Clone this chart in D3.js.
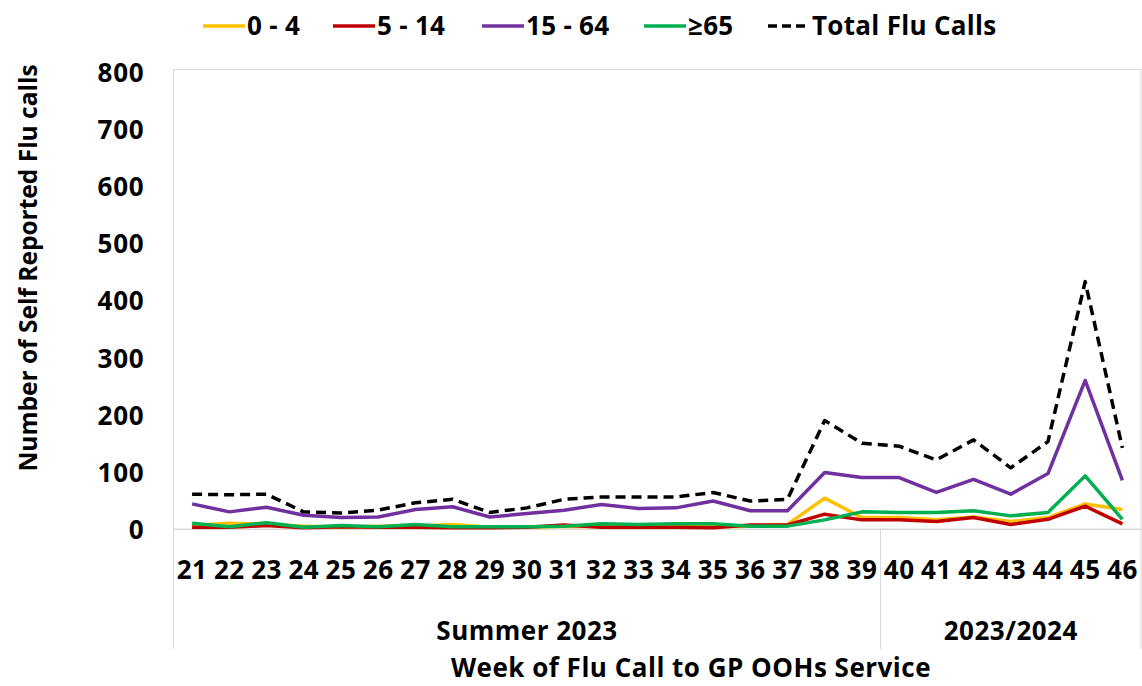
<!DOCTYPE html>
<html>
<head>
<meta charset="utf-8">
<script src="https://cdn.jsdelivr.net/npm/d3@7"></script>
<style>
  html, body { margin: 0; padding: 0; background: #fff; }
  svg text { font-family: "Open Sans", "Liberation Sans", Arial, sans-serif; font-weight: bold; fill: #000; }
</style>
</head>
<body>
<svg id="chart" width="1142" height="686"></svg>
<script>
// ---- data ----
const weeks = ["21","22","23","24","25","26","27","28","29","30","31","32","33","34","35","36","37","38","39","40","41","42","43","44","45","46"];
const age0to4   = [6, 10, 8, 5, 3, 5, 5, 8, 3, 3, 5, 4, 4, 4, 4, 5, 8, 54, 20, 20, 16, 21, 13, 20, 44, 34];
const age5to14  = [3, 3, 6, 2, 4, 3, 3, 2, 2, 3, 7, 3, 3, 3, 2, 7, 7, 26, 16, 16, 13, 20, 8, 17, 40, 9];
const age15to64 = [44, 30, 38, 24, 20, 21, 34, 39, 21, 27, 33, 43, 36, 37, 49, 32, 32, 99, 90, 90, 64, 87, 61, 97, 260, 85];
const age65plus = [10, 4, 11, 3, 6, 4, 8, 4, 4, 4, 5, 9, 8, 9, 9, 5, 5, 16, 30, 29, 29, 32, 23, 29, 93, 17];
const totalCalls = [61, 60, 61, 30, 28, 33, 46, 52, 29, 37, 52, 56, 56, 56, 64, 49, 52, 190, 150, 145, 121, 156, 107, 153, 433, 142];
const seriesNames = ["0 - 4", "5 - 14", "15 - 64", "\u226565", "Total Flu Calls"];
const yTicks = [0, 100, 200, 300, 400, 500, 600, 700, 800];
const groupLabels = ["Summer 2023", "2023/2024"];
const groupStart = ["21", "40"];
const groupEnd = ["39", "46"];

// ---- styles ----
const colors = ["#FFC000", "#C00000", "#7030A0", "#00B050", "#000000"];
const seriesValues = [age0to4, age5to14, age15to64, age65plus, totalCalls];

const svg = d3.select("#chart");
const pLeft = 173.5, pRight = 1141, pTop = 69.5, pBottom = 529;

const x = d3.scaleBand().domain(weeks).range([pLeft, pRight]).padding(0);
const y = d3.scaleLinear().domain([0, 800]).range([pBottom, 72]);

// plot frame
svg.append("rect").attr("x", pLeft).attr("y", pTop)
  .attr("width", pRight - pLeft).attr("height", pBottom - pTop)
  .attr("fill", "none").attr("stroke", "#d9d9d9").attr("stroke-width", 1);

// y axis
const yAxis = svg.append("g").attr("transform", `translate(${pLeft},0)`)
  .call(d3.axisLeft(y).tickValues(yTicks).tickSize(0).tickPadding(29));
yAxis.select(".domain").remove();
yAxis.selectAll("text").style("font-size", "26px").style("letter-spacing", "0.8px").attr("dy", "0.36em");

// x axis
const xAxis = svg.append("g").attr("transform", `translate(0,${pBottom})`)
  .call(d3.axisBottom(x).tickSize(0).tickPadding(0));
xAxis.select(".domain").attr("stroke", "#d9d9d9");
xAxis.selectAll("text").style("font-size", "26px").style("letter-spacing", "0.5px").attr("y", 41).attr("dy", "0.36em");

// group lines and labels
const groupBottom = 649;
const bounds = [x(groupStart[0]), x(groupStart[1]), pRight];
bounds.forEach(b => {
  svg.append("line").attr("x1", b).attr("x2", b).attr("y1", pBottom).attr("y2", groupBottom)
    .attr("stroke", "#d9d9d9").attr("stroke-width", 1);
});
groupLabels.forEach((g, i) => {
  const x0 = x(groupStart[i]);
  const x1 = x(groupEnd[i]) + x.bandwidth();
  svg.append("text").attr("x", (x0 + x1) / 2).attr("y", 631).attr("dy", "0.36em")
    .attr("text-anchor", "middle").style("font-size", "26px").style("letter-spacing", "0.5px").text(g);
});

// axis titles
svg.append("text").attr("transform", "translate(28,268) rotate(-90)")
  .attr("text-anchor", "middle").attr("dy", "0.36em").style("font-size", "24.5px")
  .text("Number of Self Reported Flu calls");
svg.append("text").attr("x", 691).attr("y", 668).attr("dy", "0.36em")
  .attr("text-anchor", "middle").style("font-size", "26px").style("letter-spacing", "0.5px")
  .text("Week of Flu Call to GP OOHs Service");

// lines
const line = d3.line()
  .x((d, i) => x(weeks[i]) + x.bandwidth() / 2)
  .y(d => y(d));

[0, 1, 2, 3, 4].forEach(si => {
  svg.append("path").datum(seriesValues[si])
    .attr("fill", "none")
    .attr("stroke", colors[si])
    .attr("stroke-width", 3.5)
    .attr("stroke-linejoin", "round")
    .attr("stroke-dasharray", si === 4 ? "10,6" : null)
    .attr("d", line);
});

// legend
const legendX = [203, 333, 482, 644, 768];
const legend = svg.append("g");
seriesNames.forEach((n, i) => {
  const lx = legendX[i];
  legend.append("line").attr("x1", lx).attr("x2", lx + 42).attr("y1", 26).attr("y2", 26)
    .attr("stroke", colors[i]).attr("stroke-width", 3.5)
    .attr("stroke-dasharray", i === 4 ? "9,5" : null);
  legend.append("text").attr("x", lx + 44).attr("y", 26).attr("dy", "0.36em")
    .style("font-size", "26px").style("letter-spacing", "0.3px").text(n);
});
</script>
</body>
</html>
